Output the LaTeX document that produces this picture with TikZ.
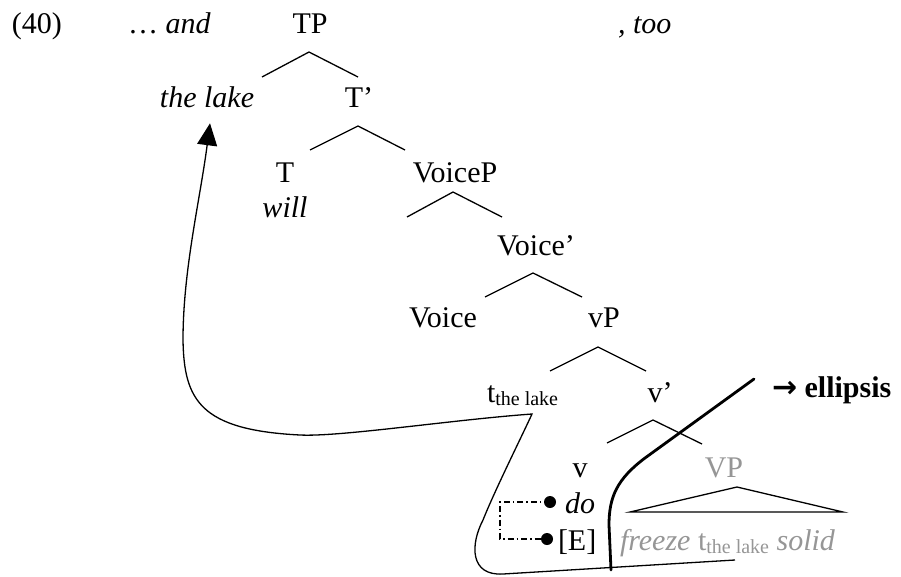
\documentclass[tikz,border=0pt]{standalone}
\usepackage{fontspec}
\setmainfont{Liberation Serif}
\newfontfamily\arrowfont{DejaVu Sans}
\usetikzlibrary{arrows.meta}
\definecolor{elided}{RGB}{150,150,150}
\newcommand{\subsz}{\fontsize{20}{24}\selectfont}
\newcommand{\trc}{t\raisebox{-3pt}{\subsz the lake}}
\begin{document}
\begin{tikzpicture}[x=1pt,y=-1pt,
  lbl/.style={inner sep=0pt, outer sep=0pt, font=\fontsize{30}{36}\selectfont},
  branch/.style={line width=1.3pt},
  move/.style={line width=1.3pt},
  cut/.style={line width=2.8pt, line cap=round},
  dotnode/.style={circle, fill=black, inner sep=0pt, minimum size=12pt},
  ddash/.style={line width=1.2pt, dash pattern=on 6pt off 3pt on 1.5pt off 3pt},
]
\useasboundingbox (0,0) rectangle (901,576);

% top row
\node[lbl,anchor=base west] (ex) at (12,33) {(40)};
\node[lbl,anchor=base west] (and) at (128,33) {… \textit{and}};
\node[lbl,anchor=base] (TP) at (310,33) {TP};
\node[lbl,anchor=base west] (too) at (618,33) {\textit{, too}};

% tree
\node[lbl,anchor=base] (lake) at (207,107) {\textit{the lake}};
\node[lbl,anchor=base] (Tbar) at (359,107) {T’};
\node[lbl,anchor=base] (T) at (285,182) {T};
\node[lbl,anchor=base] (will) at (285,217) {\textit{will}};
\node[lbl,anchor=base] (VoiceP) at (455,182) {VoiceP};
\node[lbl,anchor=base] (Voicebar) at (536,255) {Voice’};
\node[lbl,anchor=base] (Voice) at (443,327) {Voice};
\node[lbl,anchor=base] (vP) at (604,327) {vP};
\node[lbl,anchor=base west] (trace) at (487,402) {\trc};
\node[lbl,anchor=base] (vbar) at (660,402) {v’};
\node[lbl,anchor=base] (v) at (580,477) {v};
\node[lbl,anchor=base,text=elided] (VP) at (724,477) {VP};
\node[lbl,anchor=base west] (do) at (565,513) {\textit{do}};
\node[lbl,anchor=base west] (E) at (558,550) {[E]};
\node[lbl,anchor=base west,text=elided] (freeze) at (620,550) {\textit{freeze} \trc{} \textit{solid}};
\node[lbl,anchor=base west] (ellipsis) at (772,397) {{\arrowfont\bfseries →} \textbf{ellipsis}};

% branches
\draw[branch] ([xshift=-1pt,yshift=-19pt]TP.base) ++(-47,25) -- ++(47,-25) -- ++(49,25);
\draw[branch] ([xshift=-1pt,yshift=-19pt]Tbar.base) ++(-48,24) -- ++(48,-24) -- ++(47,24);
\draw[branch] ([xshift=-2pt,yshift=-10pt]VoiceP.base) ++(-46,25) -- ++(46,-25) -- ++(49,25);
\draw[branch] ([xshift=-3pt,yshift=-18pt]Voicebar.base) ++(-48,24) -- ++(48,-24) -- ++(49,24);
\draw[branch] ([xshift=-6pt,yshift=-20pt]vP.base) ++(-48,24) -- ++(48,-24) -- ++(48,24);
\draw[branch] ([xshift=-7pt,yshift=-18pt]vbar.base) ++(-46,23) -- ++(46,-23) -- ++(49,24);
\draw[branch] ([xshift=13pt,yshift=-10pt]VP.base) -- ++(-107,25) -- ++(213,0) -- cycle;

% movement line
\coordinate (mvstart) at (735,560);
\coordinate (cusp) at (532,414);
\draw[move,-{Triangle[length=22pt,width=20pt]}] (mvstart) -- (503,574)
  .. controls (470,576) and (470,545) .. (483,520)
  .. controls (495,490) and (520,440) .. (cusp)
  .. controls (450,420) and (340,437) .. (300,435)
  .. controls (200,430) and (184,400) .. (183,340)
  .. controls (183,270) and (200,200) .. ([xshift=3pt,yshift=-16pt]lake.south);

% ellipsis boundary
\coordinate (cuttop) at (754,379);
\coordinate (cutbot) at (611,570);
\draw[cut] (cuttop) -- (645,458) .. controls (617,479) and (609,497) .. (609,525) -- (cutbot);

% E-feature link
\coordinate (ddo) at (550,502);
\coordinate (dE) at (547,539);
\draw[ddash] (ddo) -- (500,502) |- (dE);
\node[dotnode] (dotdo) at (ddo) {};
\node[dotnode] (dotE) at (dE) {};
\end{tikzpicture}
\end{document}
